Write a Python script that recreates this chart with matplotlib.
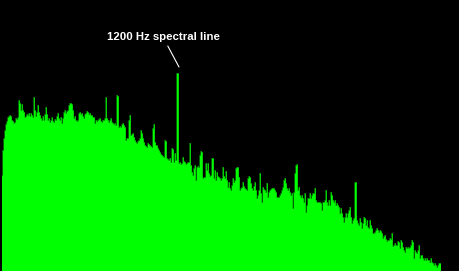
import numpy as np
from matplotlib import pyplot as plt

# spectrum levels, one value per frequency bin
levels_a = [0, 0, 96, 121, 133, 141, 147, 150, 154, 155,
            156, 155, 151, 150, 148, 149, 153, 152, 154, 171,
            168, 161, 167, 161, 159, 154, 155, 157, 156, 158,
            155, 158, 156, 154, 174, 161, 155, 159, 166, 159,
            156, 153, 151, 155, 151, 157, 164, 157, 151, 153,
            149, 151, 154, 150, 149, 152, 151, 155, 158, 153,
            151, 154, 148, 153, 159, 161, 158, 160, 161, 166,
            168, 168, 167, 161, 153, 155, 151, 150, 151, 158,
            159, 157, 158, 155, 153, 157, 158, 160, 159, 157,
            158, 156, 156, 154, 154, 148, 151, 150, 151, 152,
            153, 150, 149, 151, 151, 153, 174, 153, 151, 149]
levels_b = [151, 153, 149, 148, 147, 148, 146, 176, 175, 144,
            145, 144, 147, 148, 146, 144, 131, 133, 133, 151,
            156, 136, 137, 138, 134, 131, 129, 128, 130, 131,
            133, 141, 138, 133, 129, 126, 125, 124, 128, 127,
            126, 125, 124, 143, 147, 129, 126, 126, 123, 121,
            119, 117, 116, 115, 114, 131, 130, 113, 112, 111,
            113, 109, 123, 122, 109, 118, 111, 198, 198, 108,
            109, 107, 108, 114, 110, 109, 107, 108, 109, 109,
            128, 106, 99, 96, 103, 106, 91, 104, 105, 104,
            116, 120, 119, 93, 94, 94, 108, 101, 108, 98,
            95, 96, 113, 113, 93, 101, 91, 99, 95, 94]
levels_c = [93, 91, 93, 104, 95, 93, 100, 91, 84, 89,
            83, 81, 86, 93, 89, 91, 103, 104, 104, 94,
            81, 83, 84, 89, 85, 83, 82, 81, 93, 95,
            94, 88, 83, 81, 85, 89, 81, 73, 76, 81,
            98, 78, 69, 84, 82, 81, 79, 88, 74, 79,
            81, 82, 83, 83, 83, 81, 79, 74, 74, 74,
            76, 78, 81, 84, 91, 93, 88, 83, 81, 83,
            79, 76, 78, 63, 79, 98, 106, 107, 81, 84,
            76, 74, 76, 73, 69, 78, 59, 66, 73, 73,
            78, 73, 76, 78, 78, 83, 71, 69, 69, 69,
            69, 68, 61, 69, 69, 71, 81, 69, 66, 71]
levels_d = [66, 79, 76, 71, 69, 71, 66, 68, 66, 64,
            58, 63, 58, 54, 49, 54, 58, 54, 58, 61,
            64, 54, 48, 51, 53, 89, 89, 51, 48, 46,
            53, 49, 43, 48, 54, 53, 46, 51, 44, 43,
            51, 46, 43, 38, 38, 39, 41, 43, 41, 39,
            41, 40, 38, 33, 35, 36, 32, 30, 31, 31,
            33, 32, 38, 25, 26, 28, 26, 26, 30, 29,
            23, 31, 29, 24, 21, 19, 24, 23, 24, 23,
            24, 26, 31, 29, 13, 21, 19, 18, 21, 26,
            13, 16, 16, 13, 11, 13, 11, 13, 11, 11,
            9, 13, 9, 8, 6, 8, 6, 4, 6, 8,
            8, 0]

line_bin = 177.5
label = "1200 Hz spectral line"

levels = np.array(levels_a + levels_b + levels_c + levels_d)
bins = np.arange(len(levels))

fig = plt.figure(figsize=(4.6, 2.71), dpi=100)
fig.patch.set_facecolor("black")
ax = fig.add_axes([0, 0, 1, 1])
ax.set_facecolor("black")

ax.fill_between(bins, levels, step="mid", color="#00ff00", linewidth=0)
ax.step(bins[2:-1], levels[2:-1], where="mid", color="#00b000", linewidth=0.4)

ax.annotate(label, xy=(line_bin + 1.5, levels.max() + 6), xytext=(163, 234),
            ha="center", va="center", color="white", fontsize=8.2,
            fontweight="bold", family="Liberation Sans",
            arrowprops=dict(arrowstyle="-", color="white", lw=0.8,
                            shrinkA=1, shrinkB=0))

ax.set_xlim(0, 460)
ax.set_ylim(0, 271)
ax.axis("off")

plt.savefig("out.png", dpi=100, facecolor="black")
